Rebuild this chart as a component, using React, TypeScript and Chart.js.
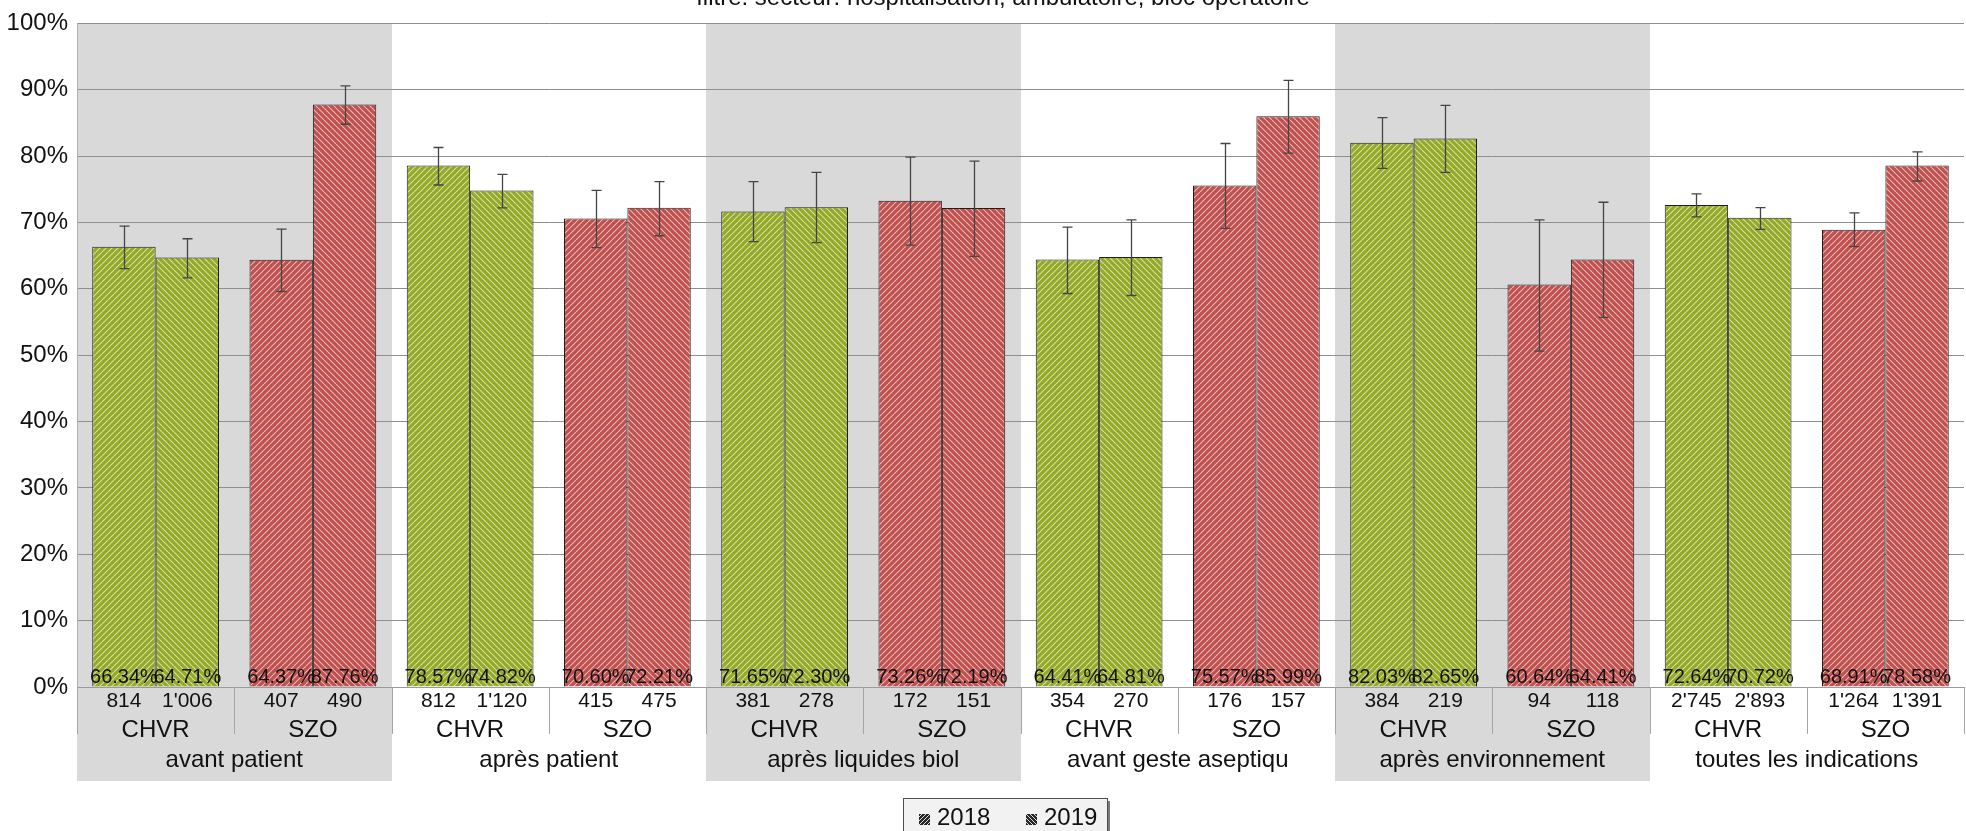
import React, { useEffect, useRef } from 'react';
import { Chart, registerables } from 'chart.js';

Chart.register(...registerables);

const FONT = "'Liberation Sans', Arial, Helvetica, sans-serif";

const titleText = 'filtre: secteur: hospitalisation, ambulatoire, bloc opératoire';
const categories = [
  'avant patient',
  'après patient',
  'après liquides biol',
  'avant geste aseptiqu',
  'après environnement',
  'toutes les indications',
];
const hospitals = ['CHVR', 'SZO'];
const years = ['2018', '2019'];

// order: for each category -> CHVR, SZO
const values2018 = [66.34, 64.37, 78.57, 70.6, 71.65, 73.26, 64.41, 75.57, 82.03, 60.64, 72.64, 68.91];
const values2019 = [64.71, 87.76, 74.82, 72.21, 72.3, 72.19, 64.81, 85.99, 82.65, 64.41, 70.72, 78.58];
const counts2018 = ['814', '407', '812', '415', '381', '172', '354', '176', '384', '94', "2'745", "1'264"];
const counts2019 = ["1'006", '490', "1'120", '475', '278', '151', '270', '157', '219', '118', "2'893", "1'391"];
const errLow2018 = [63.05, 59.6, 75.65, 66.2, 67.1, 66.6, 59.3, 69.1, 78.15, 50.6, 70.85, 66.35];
const errHigh2018 = [69.45, 69.0, 81.3, 74.85, 76.15, 79.85, 69.3, 81.9, 85.8, 70.4, 74.3, 71.45];
const errLow2019 = [61.65, 84.8, 72.2, 68.0, 66.95, 64.9, 59.0, 80.45, 77.55, 55.7, 68.95, 76.25];
const errHigh2019 = [67.55, 90.6, 77.25, 76.15, 77.55, 79.25, 70.4, 91.4, 87.65, 73.05, 72.25, 80.65];
const yTicks = [0, 10, 20, 30, 40, 50, 60, 70, 80, 90, 100];

const hospitalColors: Record<string, string> = { CHVR: '#94aa26', SZO: '#c0504d' };

function makePattern(ctx: CanvasRenderingContext2D, base: string, dir: number, s: number, line: string, lw: number) {
  const c = document.createElement('canvas');
  c.width = s;
  c.height = s;
  const g = c.getContext('2d')!;
  g.fillStyle = base;
  g.fillRect(0, 0, s, s);
  g.strokeStyle = line;
  g.lineWidth = lw;
  g.beginPath();
  if (dir > 0) {
    // "/"
    for (const o of [-s, 0, s]) {
      g.moveTo(o, s);
      g.lineTo(o + s, 0);
    }
  } else {
    // "\"
    for (const o of [-s, 0, s]) {
      g.moveTo(o, 0);
      g.lineTo(o + s, s);
    }
  }
  g.stroke();
  return ctx.createPattern(c, 'repeat')!;
}

export default function App() {
  const ref = useRef<HTMLCanvasElement | null>(null);

  useEffect(() => {
    const canvas = ref.current!;
    const ctx = canvas.getContext('2d')!;
    const labels: string[] = [];
    const hosp: string[] = [];
    categories.forEach((c) => hospitals.forEach((h) => { labels.push(c + ' ' + h); hosp.push(h); }));

    const pat = (h: string, dir: number) =>
      makePattern(ctx, hospitalColors[h], dir, 6, 'rgba(255,255,255,0.6)', 1.1);
    const bg2018 = hosp.map((h) => pat(h, 1));
    const bg2019 = hosp.map((h) => pat(h, -1));
    const legendPat = [
      makePattern(ctx, '#262626', 1, 4, 'rgba(255,255,255,0.85)', 1),
      makePattern(ctx, '#262626', -1, 4, 'rgba(255,255,255,0.85)', 1),
    ];

    const errLow = [errLow2018, errLow2019];
    const errHigh = [errHigh2018, errHigh2019];
    const counts = [counts2018, counts2019];

    const bandsPlugin = {
      id: 'bands',
      beforeDraw(chart: any) {
        const { ctx: c, chartArea: a, scales } = chart;
        const y0 = scales.y.getPixelForValue(0);
        const gw = (a.right - a.left) / 12;
        c.save();
        c.fillStyle = '#d9d9d9';
        [0, 2, 4].forEach((k) => {
          c.fillRect(Math.round(a.left + k * 2 * gw), a.top, Math.round(2 * gw), y0 + 94 - a.top);
        });
        c.restore();
      },
    };

    const overlayPlugin = {
      id: 'overlay',
      afterDatasetsDraw(chart: any) {
        const { ctx: c, scales } = chart;
        const ys = scales.y;
        const y0 = ys.getPixelForValue(0);
        c.save();
        // error bars
        c.strokeStyle = '#454545';
        c.lineWidth = 1.3;
        [0, 1].forEach((d) => {
          const meta = chart.getDatasetMeta(d);
          meta.data.forEach((el: any, i: number) => {
            const x = Math.round(el.x) + 0.5;
            const yt = ys.getPixelForValue(errHigh[d][i]);
            const yb = ys.getPixelForValue(errLow[d][i]);
            c.beginPath();
            c.moveTo(x, yt);
            c.lineTo(x, yb);
            c.moveTo(x - 5, yt);
            c.lineTo(x + 5, yt);
            c.moveTo(x - 5, yb);
            c.lineTo(x + 5, yb);
            c.stroke();
          });
        });
        // value labels
        c.fillStyle = '#111';
        c.font = `20px ${FONT}`;
        c.textAlign = 'center';
        c.textBaseline = 'alphabetic';
        [0, 1].forEach((d) => {
          const meta = chart.getDatasetMeta(d);
          const vals = chart.data.datasets[d].data;
          meta.data.forEach((el: any, i: number) => {
            c.fillText(vals[i].toFixed(2) + '%', el.x, y0 - 4);
          });
        });
        c.restore();
      },
      afterDraw(chart: any) {
        const { ctx: c, chartArea: a, scales } = chart;
        const ys = scales.y;
        const y0 = ys.getPixelForValue(0);
        const gw = (a.right - a.left) / 12;
        c.save();
        // separators
        c.strokeStyle = '#a6a6a6';
        c.lineWidth = 1;
        for (let i = 0; i <= 12; i++) {
          const x = Math.round(a.left + i * gw) + 0.5;
          c.beginPath();
          c.moveTo(x, y0);
          c.lineTo(x, y0 + 47);
          c.stroke();
        }
        c.fillStyle = '#111';
        c.textAlign = 'center';
        c.textBaseline = 'alphabetic';
        // counts
        c.font = `21px ${FONT}`;
        [0, 1].forEach((d) => {
          const meta = chart.getDatasetMeta(d);
          meta.data.forEach((el: any, i: number) => {
            c.fillText(counts[d][i], el.x, y0 + 19.5);
          });
        });
        // hospitals
        c.font = `24px ${FONT}`;
        for (let i = 0; i < 12; i++) {
          c.fillText(hosp[i], a.left + (i + 0.5) * gw, y0 + 50);
        }
        // categories
        categories.forEach((cat, k) => {
          c.fillText(cat, a.left + (k * 2 + 1) * gw, y0 + 80);
        });
        // title (partly cut off at the top)
        c.font = `24px ${FONT}`;
        c.fillText(titleText, 1003, 5);
        // legend
        const lx = 903, ly = 798, lw = 204, lh = 40;
        c.fillStyle = '#7a7a7a';
        c.fillRect(lx + 3, ly + 3, lw, lh);
        c.fillStyle = '#f2f2f2';
        c.fillRect(lx, ly, lw, lh);
        c.strokeStyle = '#4d4d4d';
        c.lineWidth = 1;
        c.strokeRect(lx + 0.5, ly + 0.5, lw, lh);
        const items = [
          { sx: 919, tx: 937 },
          { sx: 1026, tx: 1044 },
        ];
        items.forEach((it, d) => {
          c.fillStyle = legendPat[d];
          c.fillRect(it.sx, 814, 11, 11);
          c.fillStyle = '#111';
          c.textAlign = 'left';
          c.font = `24px ${FONT}`;
          c.fillText(years[d], it.tx, 824.5);
        });
        c.restore();
      },
    };

    const chart = new Chart(canvas, {
      type: 'bar',
      data: {
        labels,
        datasets: [
          {
            label: years[0],
            data: values2018,
            backgroundColor: bg2018 as any,
            borderColor: '#1e1e1e',
            borderWidth: 1,
            categoryPercentage: 0.806,
            barPercentage: 1,
          },
          {
            label: years[1],
            data: values2019,
            backgroundColor: bg2019 as any,
            borderColor: '#1e1e1e',
            borderWidth: 1,
            categoryPercentage: 0.806,
            barPercentage: 1,
          },
        ],
      },
      options: {
        responsive: false,
        animation: false,
        events: [],
        layout: { padding: { top: 19.5, left: 0, right: 2, bottom: 0 } },
        plugins: {
          legend: { display: false },
          title: { display: false },
          tooltip: { enabled: false },
        },
        scales: {
          x: {
            type: 'category',
            grid: { display: false },
            border: { display: true, color: '#9a9a9a' },
            ticks: { display: false },
            afterFit: (s: any) => { s.height = 144; },
          },
          y: {
            min: 0,
            max: 100,
            afterBuildTicks: (s: any) => { s.ticks = yTicks.map((v) => ({ value: v })); },
            ticks: {
              padding: 9,
              color: '#111',
              font: { family: FONT, size: 24 },
              callback: (v: any) => v + '%',
            },
            grid: { color: '#8f8f8f', lineWidth: 1, drawTicks: false },
            border: { display: true, color: '#b0b0b0' },
            afterFit: (s: any) => { s.width = 77; },
          },
        },
      },
      plugins: [bandsPlugin, overlayPlugin],
    });
    return () => chart.destroy();
  }, []);

  return (
    <div style={{ position: 'absolute', left: 0, top: 0, width: 1966, height: 831, background: '#fff' }}>
      <canvas ref={ref} width={1966} height={831} style={{ width: 1966, height: 831, display: 'block' }} />
    </div>
  );
}
